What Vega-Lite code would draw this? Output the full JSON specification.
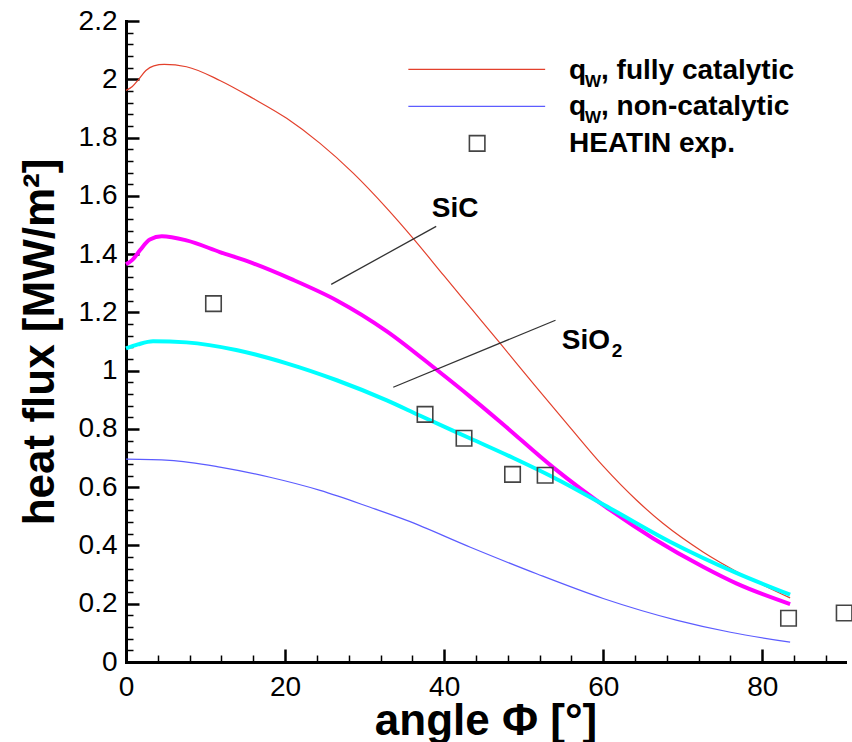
{
  "$schema": "https://vega.github.io/schema/vega-lite/v6.json",
  "width": 719,
  "height": 641,
  "autosize": "none",
  "padding": {"left": 126, "top": 21, "right": 7, "bottom": 80},
  "background": "white",
  "config": {"view": {"stroke": null}, "font": "Liberation Sans", "text": {"font": "Liberation Sans"}},
  "datasets": {
    "curves": [
      {"series": "fully", "x": 0, "y": 1.962}, {"series": "fully", "x": 0.8, "y": 1.975}, {"series": "fully", "x": 1.6, "y": 2.0}, {"series": "fully", "x": 2.5, "y": 2.03}, {"series": "fully", "x": 3.5, "y": 2.046}, {"series": "fully", "x": 4.8, "y": 2.051}, {"series": "fully", "x": 7.6, "y": 2.043}, {"series": "fully", "x": 11.8, "y": 1.996}, {"series": "fully", "x": 16.0, "y": 1.934}, {"series": "fully", "x": 20.2, "y": 1.866}, {"series": "fully", "x": 24.4, "y": 1.78}, {"series": "fully", "x": 28.6, "y": 1.677}, {"series": "fully", "x": 32.8, "y": 1.557}, {"series": "fully", "x": 36.1, "y": 1.454}, {"series": "fully", "x": 40.0, "y": 1.325}, {"series": "fully", "x": 43.5, "y": 1.21}, {"series": "fully", "x": 47.0, "y": 1.095}, {"series": "fully", "x": 51.5, "y": 0.946}, {"series": "fully", "x": 55.8, "y": 0.806}, {"series": "fully", "x": 60.0, "y": 0.672}, {"series": "fully", "x": 64.2, "y": 0.555}, {"series": "fully", "x": 67.5, "y": 0.476}, {"series": "fully", "x": 72.6, "y": 0.377}, {"series": "fully", "x": 76.8, "y": 0.31}, {"series": "fully", "x": 83.5, "y": 0.22},
      {"series": "non", "x": 0, "y": 0.696}, {"series": "non", "x": 5.5, "y": 0.692}, {"series": "non", "x": 11.8, "y": 0.669}, {"series": "non", "x": 18.1, "y": 0.634}, {"series": "non", "x": 24.4, "y": 0.589}, {"series": "non", "x": 30.7, "y": 0.531}, {"series": "non", "x": 35.3, "y": 0.486}, {"series": "non", "x": 43.3, "y": 0.394}, {"series": "non", "x": 51.7, "y": 0.302}, {"series": "non", "x": 60.0, "y": 0.218}, {"series": "non", "x": 69.3, "y": 0.143}, {"series": "non", "x": 76.0, "y": 0.102}, {"series": "non", "x": 83.5, "y": 0.068},
      {"series": "SiC", "x": 0, "y": 1.365}, {"series": "SiC", "x": 0.8, "y": 1.38}, {"series": "SiC", "x": 1.8, "y": 1.415}, {"series": "SiC", "x": 3.0, "y": 1.45}, {"series": "SiC", "x": 4.5, "y": 1.461}, {"series": "SiC", "x": 7.6, "y": 1.447}, {"series": "SiC", "x": 11.8, "y": 1.407}, {"series": "SiC", "x": 16.0, "y": 1.368}, {"series": "SiC", "x": 20.8, "y": 1.314}, {"series": "SiC", "x": 26.5, "y": 1.241}, {"series": "SiC", "x": 32.8, "y": 1.135}, {"series": "SiC", "x": 39.1, "y": 1.002}, {"series": "SiC", "x": 43.3, "y": 0.91}, {"series": "SiC", "x": 47.4, "y": 0.816}, {"series": "SiC", "x": 53.7, "y": 0.668}, {"series": "SiC", "x": 60.9, "y": 0.521}, {"series": "SiC", "x": 66.3, "y": 0.424}, {"series": "SiC", "x": 72.6, "y": 0.326}, {"series": "SiC", "x": 76.8, "y": 0.269}, {"series": "SiC", "x": 83.5, "y": 0.199},
      {"series": "SiO2", "x": 0, "y": 1.076}, {"series": "SiO2", "x": 1.5, "y": 1.09}, {"series": "SiO2", "x": 3.4, "y": 1.101}, {"series": "SiO2", "x": 7.6, "y": 1.097}, {"series": "SiO2", "x": 14.0, "y": 1.07}, {"series": "SiO2", "x": 20.2, "y": 1.025}, {"series": "SiO2", "x": 26.5, "y": 0.967}, {"series": "SiO2", "x": 32.8, "y": 0.898}, {"series": "SiO2", "x": 37.0, "y": 0.845}, {"series": "SiO2", "x": 43.3, "y": 0.767}, {"series": "SiO2", "x": 48.7, "y": 0.7}, {"series": "SiO2", "x": 53.7, "y": 0.634}, {"series": "SiO2", "x": 60.9, "y": 0.527}, {"series": "SiO2", "x": 68.4, "y": 0.413}, {"series": "SiO2", "x": 76.8, "y": 0.305}, {"series": "SiO2", "x": 83.5, "y": 0.231}
    ],
    "exp": [
      {"x": 11.0, "y": 1.23}, {"x": 37.6, "y": 0.85}, {"x": 42.5, "y": 0.768}, {"x": 48.6, "y": 0.644}, {"x": 52.7, "y": 0.641}, {"x": 83.3, "y": 0.15}, {"x": 90.3, "y": 0.168}
    ],
    "legendsym": [{"x": 44.15, "y": 1.78}],
    "legendlines": [
      {"series": "fully", "x": 35.5, "y": 2.034}, {"series": "fully", "x": 52.7, "y": 2.034},
      {"series": "non", "x": 35.5, "y": 1.907}, {"series": "non", "x": 52.7, "y": 1.907}
    ],
    "annot": [
      {"label": "SiC", "x": 25.8, "y": 1.296}, {"label": "SiC", "x": 39.0, "y": 1.495},
      {"label": "SiO2", "x": 33.6, "y": 0.943}, {"label": "SiO2", "x": 54.0, "y": 1.173}
    ],
    "texts": [
      {"text": "q", "x": 55.7, "y": 2.002}, {"text": "q", "x": 55.7, "y": 1.876}, {"text": "HEATIN exp.", "x": 55.7, "y": 1.75},
      {"text": "SiC", "x": 38.45, "y": 1.527}, {"text": "SiO", "x": 54.8, "y": 1.075}
    ],
    "tails": [
      {"text": ", fully catalytic", "x": 55.7, "y": 2.002}, {"text": ", non-catalytic", "x": 55.7, "y": 1.876}
    ],
    "subw": [
      {"text": "W", "x": 55.7, "y": 2.002}, {"text": "W", "x": 55.7, "y": 1.876}
    ],
    "sub2": [{"text": "2", "x": 54.8, "y": 1.075}]
  },
  "resolve": {"axis": {"x": "independent", "y": "independent"}},
  "layer": [
    {
      "data": {"name": "curves"},
      "mark": {"type": "line", "interpolate": "monotone"},
      "encoding": {
        "x": {
          "field": "x", "type": "quantitative",
          "scale": {"domain": [0, 90.4], "nice": false, "zero": false},
          "axis": {
            "orient": "bottom",
            "title": "angle Φ [°]",
            "values": [0, 20, 40, 60, 80],
            "format": "d",
            "grid": false, "ticks": false,
            "domainColor": "black", "domainWidth": 3, "domainCap": "square",
            "labelFont": "Liberation Sans", "labelFontSize": 28, "labelColor": "black",
            "labelPadding": 11, "labelFlush": false, "labelOverlap": false,
            "titleFont": "Liberation Sans", "titleFontSize": 44, "titleFontWeight": "bold", "titleColor": "black",
            "titlePadding": -2
          }
        },
        "y": {
          "field": "y", "type": "quantitative",
          "scale": {"domain": [0, 2.2], "nice": false, "zero": false},
          "axis": {
            "orient": "left",
            "title": "heat flux [MW/m²]",
            "values": [0, 0.2, 0.4, 0.6, 0.8, 1, 1.2, 1.4, 1.6, 1.8, 2, 2.2],
            "format": ".1~f",
            "grid": false, "ticks": false,
            "domainColor": "black", "domainWidth": 3, "domainCap": "square",
            "labelFont": "Liberation Sans", "labelFontSize": 28, "labelColor": "black",
            "labelPadding": 9, "labelFlush": false, "labelOverlap": false,
            "titleFont": "Liberation Sans", "titleFontSize": 44, "titleFontWeight": "bold", "titleColor": "black",
            "titlePadding": 16
          }
        },
        "color": {"field": "series", "type": "nominal", "scale": {"domain": ["fully", "non", "SiC", "SiO2"], "range": ["#e3402c", "#5c5cff", "#ff00ff", "#00ffff"]}, "legend": null},
        "strokeWidth": {"condition": {"test": "datum.series === 'SiC' || datum.series === 'SiO2'", "value": 4}, "value": 1.2}
      }
    },
    {
      "data": {"name": "exp"},
      "mark": {"type": "point", "shape": "square", "size": 240, "filled": false, "stroke": "#444444", "strokeWidth": 1.6, "opacity": 1},
      "encoding": {
        "x": {
          "field": "x", "type": "quantitative",
          "scale": {"domain": [0, 90.4], "nice": false, "zero": false},
          "axis": {
            "orient": "top", "offset": -641, "title": null, "labels": false, "domain": false, "grid": false,
            "values": [0, 20, 40, 60, 80],
            "tickColor": "#000000", "tickSize": 13, "tickWidth": 2.5
          }
        },
        "y": {
          "field": "y", "type": "quantitative",
          "scale": {"domain": [0, 2.2], "nice": false, "zero": false},
          "axis": {
            "orient": "right", "offset": -719, "title": null, "labels": false, "domain": false, "grid": false,
            "values": [0, 0.2, 0.4, 0.6, 0.8, 1, 1.2, 1.4, 1.6, 1.8, 2, 2.2],
            "tickColor": "#000000", "tickSize": 13, "tickWidth": 2.5
          }
        }
      }
    },
    {
      "data": {"name": "legendsym"},
      "mark": {"type": "point", "shape": "square", "size": 240, "filled": false, "stroke": "#444444", "strokeWidth": 1.6, "opacity": 1},
      "encoding": {
        "x": {
          "field": "x", "type": "quantitative",
          "scale": {"domain": [0, 90.4], "nice": false, "zero": false},
          "axis": {
            "orient": "top", "offset": -641, "title": null, "labels": false, "domain": false, "grid": false,
            "values": [4, 8, 12, 16, 24, 28, 32, 36, 44, 48, 52, 56, 64, 68, 72, 76, 84, 88],
            "tickColor": "#000000", "tickSize": 7, "tickWidth": 1.5
          }
        },
        "y": {
          "field": "y", "type": "quantitative",
          "scale": {"domain": [0, 2.2], "nice": false, "zero": false},
          "axis": {
            "orient": "right", "offset": -719, "title": null, "labels": false, "domain": false, "grid": false,
            "values": [0.04, 0.08, 0.12, 0.16, 0.24, 0.28, 0.32, 0.36, 0.44, 0.48, 0.52, 0.56, 0.64, 0.68, 0.72, 0.76, 0.84, 0.88, 0.92, 0.96, 1.04, 1.08, 1.12, 1.16, 1.24, 1.28, 1.32, 1.36, 1.44, 1.48, 1.52, 1.56, 1.64, 1.68, 1.72, 1.76, 1.84, 1.88, 1.92, 1.96, 2.04, 2.08, 2.12, 2.16],
            "tickColor": "#000000", "tickSize": 7, "tickWidth": 1.5
          }
        }
      }
    },
    {
      "data": {"name": "legendlines"},
      "mark": {"type": "line", "strokeWidth": 1.2},
      "encoding": {
        "x": {"field": "x", "type": "quantitative", "axis": null},
        "y": {"field": "y", "type": "quantitative", "axis": null},
        "color": {"field": "series", "type": "nominal", "scale": {"domain": ["fully", "non", "SiC", "SiO2"], "range": ["#e3402c", "#5c5cff", "#ff00ff", "#00ffff"]}, "legend": null}
      }
    },
    {
      "data": {"name": "annot"},
      "mark": {"type": "line", "color": "#333333", "strokeWidth": 1.3},
      "encoding": {
        "x": {"field": "x", "type": "quantitative", "axis": null},
        "y": {"field": "y", "type": "quantitative", "axis": null},
        "detail": {"field": "label", "type": "nominal"}
      }
    },
    {
      "data": {"name": "texts"},
      "mark": {"type": "text", "align": "left", "baseline": "alphabetic", "fontSize": 28, "fontWeight": "bold", "color": "black"},
      "encoding": {
        "x": {"field": "x", "type": "quantitative", "axis": null},
        "y": {"field": "y", "type": "quantitative", "axis": null},
        "text": {"field": "text"}
      }
    },
    {
      "data": {"name": "tails"},
      "mark": {"type": "text", "align": "left", "baseline": "alphabetic", "fontSize": 28, "fontWeight": "bold", "color": "black", "dx": 32},
      "encoding": {
        "x": {"field": "x", "type": "quantitative", "axis": null},
        "y": {"field": "y", "type": "quantitative", "axis": null},
        "text": {"field": "text"}
      }
    },
    {
      "data": {"name": "subw"},
      "mark": {"type": "text", "align": "left", "baseline": "alphabetic", "fontSize": 17, "fontWeight": "bold", "color": "black", "dx": 16, "dy": 8},
      "encoding": {
        "x": {"field": "x", "type": "quantitative", "axis": null},
        "y": {"field": "y", "type": "quantitative", "axis": null},
        "text": {"field": "text"}
      }
    },
    {
      "data": {"name": "sub2"},
      "mark": {"type": "text", "align": "left", "baseline": "alphabetic", "fontSize": 19, "fontWeight": "bold", "color": "black", "dx": 50, "dy": 8},
      "encoding": {
        "x": {"field": "x", "type": "quantitative", "axis": null},
        "y": {"field": "y", "type": "quantitative", "axis": null},
        "text": {"field": "text"}
      }
    }
  ]
}
